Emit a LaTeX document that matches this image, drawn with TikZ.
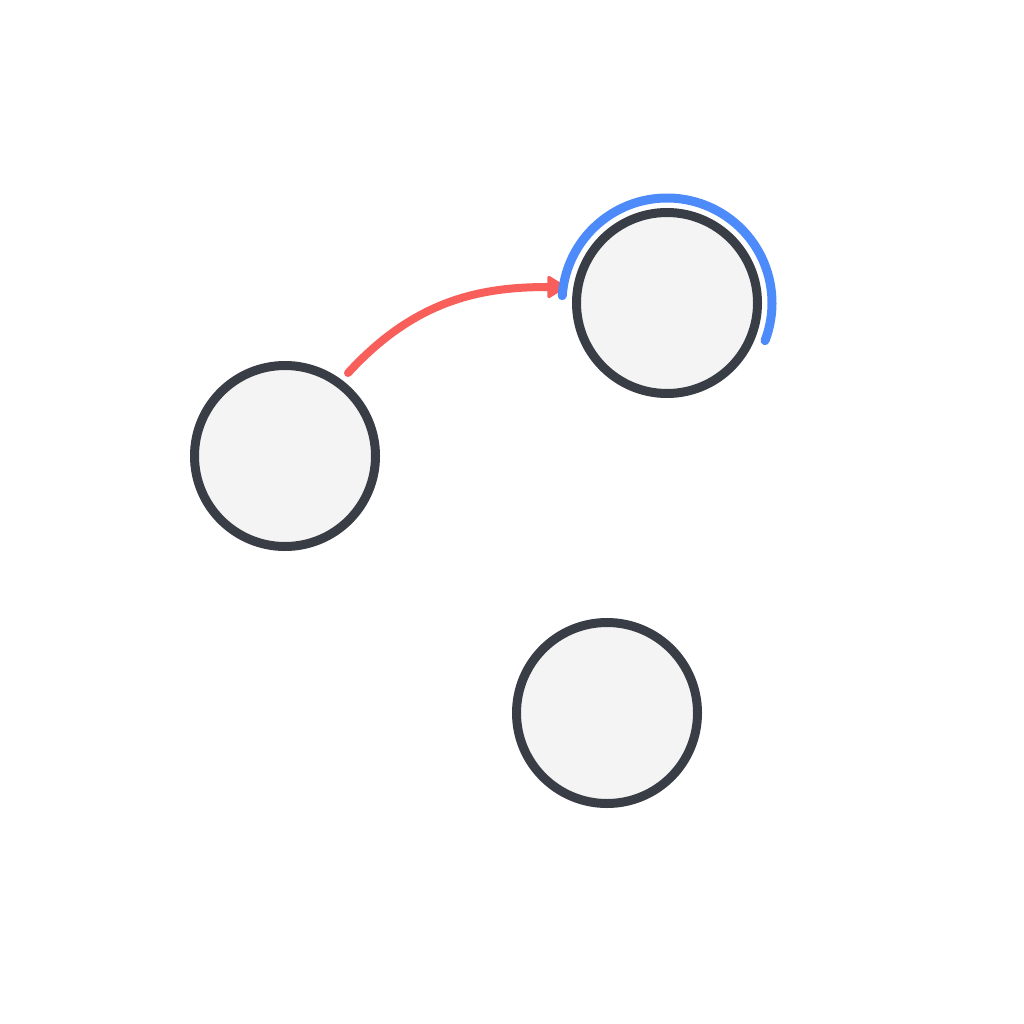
\documentclass[tikz,border=0pt]{standalone}
\usetikzlibrary{arrows.meta}
\definecolor{dark}{HTML}{393E46}
\definecolor{nodefill}{HTML}{F4F4F4}
\definecolor{arcblue}{HTML}{4D8BFA}
\definecolor{arrred}{HTML}{F85F5A}
\begin{document}
\begin{tikzpicture}[x=1pt,y=-1pt,
  state/.style={circle,draw=dark,fill=nodefill,line width=9pt,minimum size=181pt,inner sep=0pt},
  edgearrow/.style={draw=arrred,line width=8pt,line cap=round,arrows={-Triangle[length=20pt,width=24pt,round,line width=3pt]}},
  selarc/.style={draw=arcblue,line width=9pt,line cap=round}]
\useasboundingbox[fill=white] (0,0) rectangle (1024,1024);
\node[state] (a) at (285,456) {};
\node[state] (b) at (667,303) {};
\node[state] (c) at (607,713) {};
\coordinate (s) at (348,373);
\coordinate (t) at (566,287);
\draw[edgearrow] (s) .. controls (415,300) and (480,287) .. (t);
\draw[selarc] (b) ++(176:105pt) arc[start angle=176,end angle=-21,radius=105pt];
\end{tikzpicture}
\end{document}
